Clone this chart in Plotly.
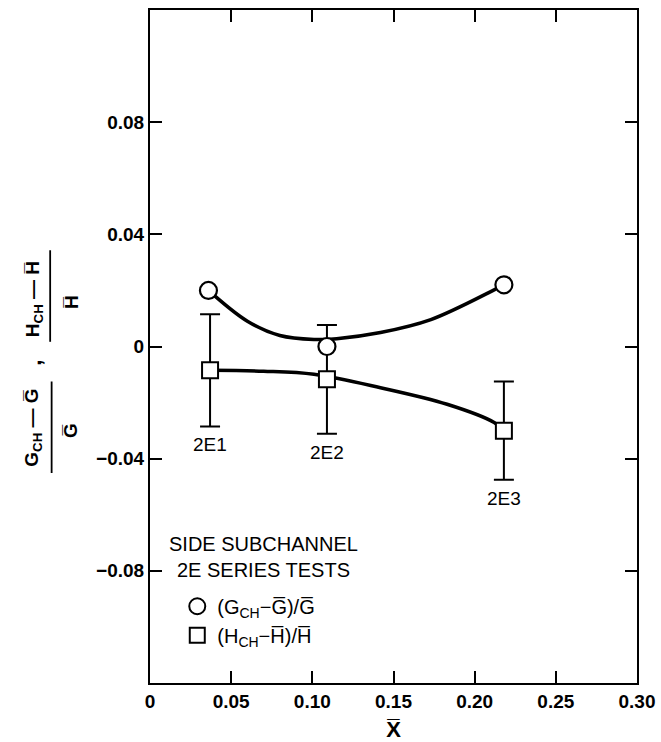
import plotly.graph_objects as go

# Test points (quality X-bar) and measured deviations
tests = ["2E1", "2E2", "2E3"]
g_x = [0.036, 0.109, 0.218]
g_dev = [0.020, 0.000, 0.022]
h_x = [0.037, 0.109, 0.218]
h_dev = [-0.0085, -0.0117, -0.030]
h_err = [0.020, 0.0194, 0.0175]

# Hand-faired trend curves
g_curve_x = [0.036, 0.060, 0.080, 0.101, 0.115, 0.142, 0.173, 0.212, 0.218]
g_curve_y = [0.020, 0.0090, 0.0039, 0.0025, 0.0028, 0.0050, 0.0096, 0.0202, 0.022]
h_curve_x = [0.037, 0.070, 0.101, 0.142, 0.183, 0.212, 0.218]
h_curve_y = [-0.0085, -0.0088, -0.0099, -0.0147, -0.0206, -0.0271, -0.030]

x_ticks = [0, 0.05, 0.10, 0.15, 0.20, 0.25, 0.30]
x_tick_text = ["0", "0.05", "0.10", "0.15", "0.20", "0.25", "0.30"]
y_ticks = [-0.08, -0.04, 0, 0.04, 0.08]
y_tick_text = ["\u22120.08", "\u22120.04", "0", "0.04", "0.08"]

FONT = "Liberation Sans, Arial, sans-serif"
OL = "\u0305"  # combining overline

fig = go.Figure()

fig.add_trace(go.Scatter(x=g_curve_x, y=g_curve_y, mode="lines",
                         line=dict(color="black", width=3.5, shape="spline"),
                         showlegend=False, hoverinfo="skip"))
fig.add_trace(go.Scatter(x=h_curve_x, y=h_curve_y, mode="lines",
                         line=dict(color="black", width=3.5, shape="spline"),
                         showlegend=False, hoverinfo="skip"))

fig.add_trace(go.Scatter(
    x=h_x, y=h_dev, mode="markers", showlegend=False,
    marker=dict(symbol="square", size=16, color="white",
                line=dict(color="black", width=2)),
    error_y=dict(type="data", array=h_err, visible=True,
                 color="black", thickness=2, width=10)))

fig.add_trace(go.Scatter(
    x=g_x, y=g_dev, mode="markers", showlegend=False,
    marker=dict(symbol="circle", size=17, color="white",
                line=dict(color="black", width=2.2))))

# legend-only entries
fig.add_trace(go.Scatter(
    x=[None], y=[None], mode="markers",
    name="(G<sub>CH</sub>\u2212G" + OL + ")/G" + OL,
    marker=dict(symbol="circle-open", size=16, color="black",
                line=dict(width=2))))
fig.add_trace(go.Scatter(
    x=[None], y=[None], mode="markers",
    name="(H<sub>CH</sub>\u2212H" + OL + ")/H" + OL,
    marker=dict(symbol="square-open", size=15, color="black",
                line=dict(width=2))))

# legend heading
fig.add_annotation(xref="paper", yref="paper", x=0.234, y=0.226,
                   xanchor="center", yanchor="top", align="center",
                   text="SIDE SUBCHANNEL<br>2E SERIES TESTS", showarrow=False,
                   font=dict(family=FONT, size=20, color="black"))

# test labels under the error bars
for t, x, y, e in zip(tests, h_x, h_dev, h_err):
    fig.add_annotation(x=x, y=y - e, text=t, showarrow=False,
                       yanchor="top", yshift=-6,
                       font=dict(family=FONT, size=19, color="black"))

# y-axis label built as two stacked fractions
lab_font = dict(family=FONT, size=19, color="black", weight="bold")
fig.add_annotation(xref="paper", yref="paper", x=-0.268, y=0.380,
                   text="G<sub>CH</sub> \u2014 G" + OL, textangle=-90,
                   showarrow=False, font=lab_font)
fig.add_annotation(xref="paper", yref="paper", x=-0.188, y=0.376,
                   text="G" + OL, textangle=-90, showarrow=False, font=lab_font)
fig.add_annotation(xref="paper", yref="paper", x=-0.268, y=0.476,
                   text=",", textangle=-90, showarrow=False,
                   font=dict(family=FONT, size=22, color="black", weight="bold"))
fig.add_annotation(xref="paper", yref="paper", x=-0.268, y=0.571,
                   text="H<sub>CH</sub> \u2014 H" + OL, textangle=-90,
                   showarrow=False, font=lab_font)
fig.add_annotation(xref="paper", yref="paper", x=-0.188, y=0.566,
                   text="H" + OL, textangle=-90, showarrow=False, font=lab_font)
fig.add_shape(type="line", xref="paper", yref="paper",
              x0=-0.202, x1=-0.202, y0=0.312, y1=0.448,
              line=dict(color="black", width=1.8))
fig.add_shape(type="line", xref="paper", yref="paper",
              x0=-0.205, x1=-0.205, y0=0.507, y1=0.643,
              line=dict(color="black", width=1.8))

tick_font = dict(family=FONT, size=19, color="black", weight="bold")

fig.update_xaxes(range=[0, 0.30], tickvals=x_ticks, ticktext=x_tick_text,
                 ticks="inside", ticklen=12, tickwidth=2, tickcolor="black",
                 showline=True, linecolor="black", linewidth=2, mirror="ticks",
                 showgrid=False, zeroline=False, tickfont=tick_font,
                 automargin=False,
                 title=dict(text="X" + OL, standoff=13,
                            font=dict(family=FONT, size=22, color="black",
                                      weight="bold")))
fig.update_yaxes(range=[-0.12, 0.12], tickvals=y_ticks, ticktext=y_tick_text,
                 ticks="inside", ticklen=12, tickwidth=2, tickcolor="black",
                 showline=True, linecolor="black", linewidth=2, mirror="ticks",
                 showgrid=False, zeroline=False, tickfont=tick_font,
                 automargin=False)

fig.update_layout(
    width=661, height=742,
    margin=dict(l=150, r=24, t=10, b=59),
    paper_bgcolor="white", plot_bgcolor="white",
    font=dict(family=FONT, color="black"),
    showlegend=True,
    legend=dict(x=0.056, y=0.143, xanchor="left", yanchor="top",
                bgcolor="rgba(0,0,0,0)", itemwidth=30,
                font=dict(family=FONT, size=20, color="black")),
)

fig.write_html("out.html")
